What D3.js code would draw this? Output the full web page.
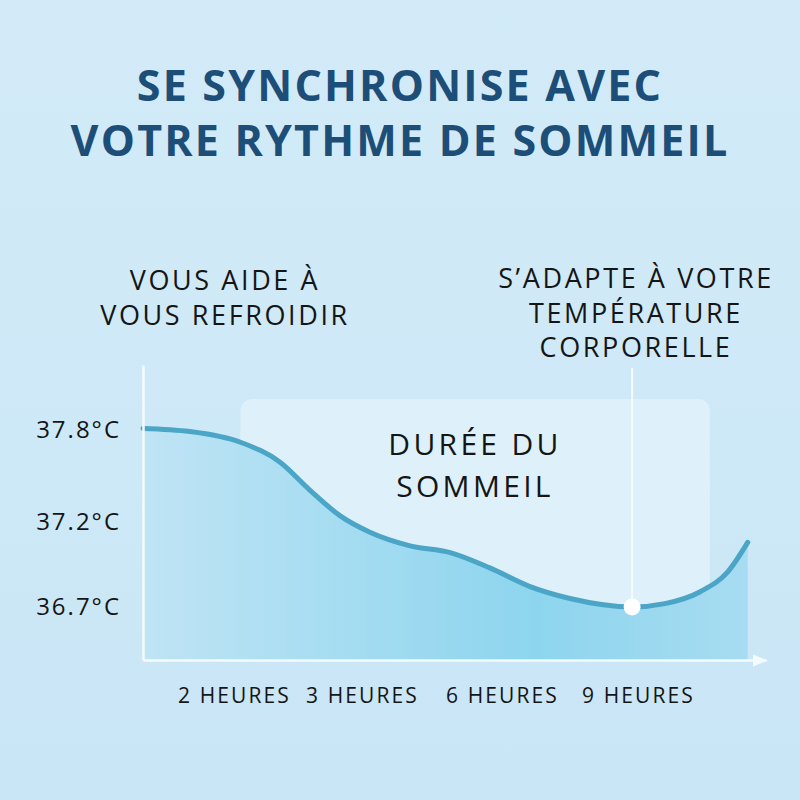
<!DOCTYPE html>
<html>
<head>
<meta charset="utf-8">
<script src="https://cdn.jsdelivr.net/npm/d3@7"></script>
<style>
  html, body { margin: 0; padding: 0; }
  body { width: 800px; height: 800px; overflow: hidden; }
  text { font-family: "Open Sans", "Noto Sans", sans-serif; }
</style>
</head>
<body>
<svg id="chart" width="800" height="800"></svg>
<script>
// data
var titleLines = ["SE SYNCHRONISE AVEC", "VOTRE RYTHME DE SOMMEIL"];
var leftNote = ["VOUS AIDE À", "VOUS REFROIDIR"];
var rightNote = ["S\u2019ADAPTE À VOTRE", "TEMPÉRATURE", "CORPORELLE"];
var boxLabel = ["DURÉE DU", "SOMMEIL"];
var hourTicks = [2, 3, 6, 9];
var tempTicks = [37.8, 37.2, 36.7];
var curveHours = [0, 1.03, 2.05, 2.36, 2.59, 2.83, 3.17, 4.03, 4.89, 5.74, 6.62, 7.5, 8.87, 9.44, 10.02, 10.48, 10.80];
var curveTemps = [37.81, 37.79, 37.72, 37.59, 37.41, 37.24, 37.14, 37.06, 37.02, 36.93, 36.82, 36.75, 36.70, 36.72, 36.79, 36.91, 37.08];
var markHour = 8.87, markTemp = 36.70;
var boxHours = [2.05, 10.18];   // sleep duration panel
var boxTop = 38.0;

var svg = d3.select("#chart");
var defs = svg.append("defs");

// background
var bg = defs.append("linearGradient").attr("id", "bg").attr("x1", 0).attr("y1", 0).attr("x2", 0).attr("y2", 1);
bg.append("stop").attr("offset", "0%").attr("stop-color", "#d3ebf8");
bg.append("stop").attr("offset", "100%").attr("stop-color", "#c9e6f6");
svg.append("rect").attr("width", 800).attr("height", 800).attr("fill", "url(#bg)");

var fillG = defs.append("linearGradient").attr("id", "fillG").attr("x1", 0).attr("y1", 0).attr("x2", 1).attr("y2", 0);
fillG.append("stop").attr("offset", "0%").attr("stop-color", "#bfe4f5");
fillG.append("stop").attr("offset", "65%").attr("stop-color", "#8dd5ee");
fillG.append("stop").attr("offset", "100%").attr("stop-color", "#a7dcf1");

// scales (the hour ticks are not evenly spaced in the picture)
var x = d3.scaleLinear().domain([0, 2, 3, 6, 9, 11.1]).range([143, 234, 362, 502, 638, 766]);
var y = d3.scaleLinear().domain([36.39, 36.7, 37.2, 37.8, 38.22]).range([660, 607, 522, 430, 365]);

// title
svg.append("g").selectAll("text").data(titleLines).enter().append("text")
    .attr("x", 400).attr("y", function(d, i) { return 101 + i * 55; })
    .attr("text-anchor", "middle").attr("font-size", 43).attr("font-weight", 700)
    .attr("letter-spacing", 2.2)
    .attr("fill", "#1c4e78").text(function(d) { return d; });

// notes
svg.append("g").selectAll("text").data(leftNote).enter().append("text")
    .attr("x", 225).attr("y", function(d, i) { return 290 + i * 35; })
    .attr("text-anchor", "middle").attr("font-size", 27).attr("letter-spacing", 2.6)
    .attr("fill", "#151515")
    .text(function(d) { return d; });
svg.append("g").selectAll("text").data(rightNote).enter().append("text")
    .attr("x", 636).attr("y", function(d, i) { return 288 + i * 34.5; })
    .attr("text-anchor", "middle").attr("font-size", 27).attr("letter-spacing", 2.6)
    .attr("fill", "#151515")
    .text(function(d) { return d; });

// sleep panel
svg.append("rect")
    .attr("x", x(boxHours[0])).attr("y", y(boxTop))
    .attr("width", x(boxHours[1]) - x(boxHours[0])).attr("height", y(36.45) - y(boxTop))
    .attr("rx", 12).attr("fill", "#e2f3fb").attr("opacity", 0.8);
svg.append("g").selectAll("text").data(boxLabel).enter().append("text")
    .attr("x", 475).attr("y", function(d, i) { return 455 + i * 42; })
    .attr("text-anchor", "middle").attr("font-size", 30).attr("letter-spacing", 3.3)
    .attr("fill", "#151515")
    .text(function(d) { return d; });

var pts = curveHours.map(function(h, i) { return [h, curveTemps[i]]; });

var area = d3.area().curve(d3.curveMonotoneX)
    .x(function(d) { return x(d[0]); })
    .y0(y(36.39))
    .y1(function(d) { return y(d[1]); });
svg.append("path").datum(pts).attr("d", area).attr("fill", "url(#fillG)");

var line = d3.line().curve(d3.curveMonotoneX)
    .x(function(d) { return x(d[0]); })
    .y(function(d) { return y(d[1]); });
svg.append("path").datum(pts).attr("d", line)
    .attr("fill", "none").attr("stroke", "#4aa5c6").attr("stroke-width", 5).attr("stroke-linecap", "round");

// axes
defs.append("marker").attr("id", "arrow").attr("viewBox", "0 0 10 10")
    .attr("refX", 9).attr("refY", 5).attr("markerWidth", 6).attr("markerHeight", 6)
    .attr("markerUnits", "strokeWidth").attr("orient", "auto")
    .append("path").attr("d", "M0,1L10,5L0,9Z").attr("fill", "#f4fbfe");

var yAxis = svg.append("g").attr("transform", "translate(143,0)")
    .call(d3.axisLeft(y).tickValues(tempTicks).tickSize(0).tickSizeOuter(0).tickPadding(22)
        .tickFormat(function(d) { return d.toFixed(1) + "°C"; }));
yAxis.select(".domain").attr("stroke", "#f4fbfe").attr("stroke-width", 2.5);
yAxis.selectAll("text").attr("font-size", 24).attr("fill", "#151515").attr("letter-spacing", 2)
    .attr("font-family", "'Open Sans', sans-serif");

var xAxis = svg.append("g").attr("transform", "translate(0," + y(36.39) + ")")
    .call(d3.axisBottom(x).tickValues(hourTicks).tickSize(0).tickSizeOuter(0).tickPadding(28)
        .tickFormat(function(d) { return d + " HEURES"; }));
xAxis.select(".domain").attr("stroke", "#f4fbfe").attr("stroke-width", 2.5).attr("marker-end", "url(#arrow)");
xAxis.selectAll("text").attr("font-size", 21).attr("fill", "#151515").attr("letter-spacing", 2.1)
    .attr("font-family", "'Open Sans', sans-serif");

// marker line and dot
svg.append("line")
    .attr("x1", x(markHour)).attr("x2", x(markHour))
    .attr("y1", y(38.2)).attr("y2", y(markTemp))
    .attr("stroke", "#f4fbfe").attr("stroke-width", 2);
svg.append("circle").attr("cx", x(markHour)).attr("cy", y(markTemp)).attr("r", 8.5)
    .attr("fill", "#ffffff");
</script>
</body>
</html>
